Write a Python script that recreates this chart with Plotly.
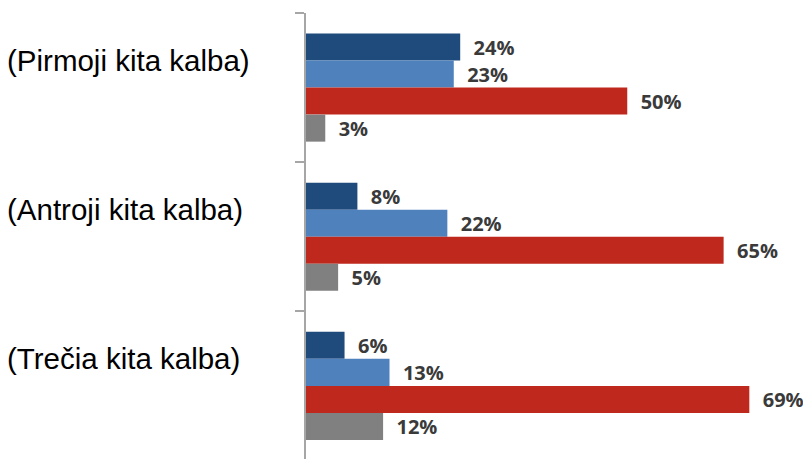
import plotly.graph_objects as go

categories = ["(Pirmoji kita kalba)", "(Antroji kita kalba)", "(Trečia kita kalba)"]
series_a = [24, 8, 6]
series_b = [23, 22, 13]
series_c = [50, 65, 69]
series_d = [3, 5, 12]
colors = ["#1F4A7C", "#4F81BD", "#BE281D", "#808080"]

fig = go.Figure()
for vals, col in zip([series_a, series_b, series_c, series_d], colors):
    fig.add_trace(go.Bar(
        y=categories, x=vals, orientation="h",
        marker=dict(color=col, line=dict(width=0)),
        text=[f"\u00a0\u00a0{v}%" for v in vals],
        textposition="outside",
        textfont=dict(family="Open Sans", size=20, color="#3A3A3A", weight="bold"),
        cliponaxis=False,
        showlegend=False,
    ))

for c in categories:
    fig.add_annotation(
        x=-0.59, xref="paper", xanchor="left", xshift=-3,
        y=c, yref="y", yshift=27, yanchor="middle",
        text=c, showarrow=False,
        font=dict(family="Liberation Sans, Arial", size=29.5, color="#000000"),
    )

fig.update_layout(
    width=803, height=451,
    margin=dict(l=298, r=0, t=5, b=0),
    paper_bgcolor="white", plot_bgcolor="white",
    barmode="group", bargap=0.275, bargroupgap=0,
    xaxis=dict(range=[0, 78.6], visible=False, showgrid=False, zeroline=False),
    yaxis=dict(
        type="category", range=[2.49, -0.5],
        showticklabels=False, showgrid=False, zeroline=False,
        showline=True, linecolor="#A6A6A6", linewidth=1.5,
        ticks="outside", ticklen=9, tickcolor="#A6A6A6", tickwidth=1.5,
        tickson="boundaries",
    ),
)

fig.write_html("out.html")
